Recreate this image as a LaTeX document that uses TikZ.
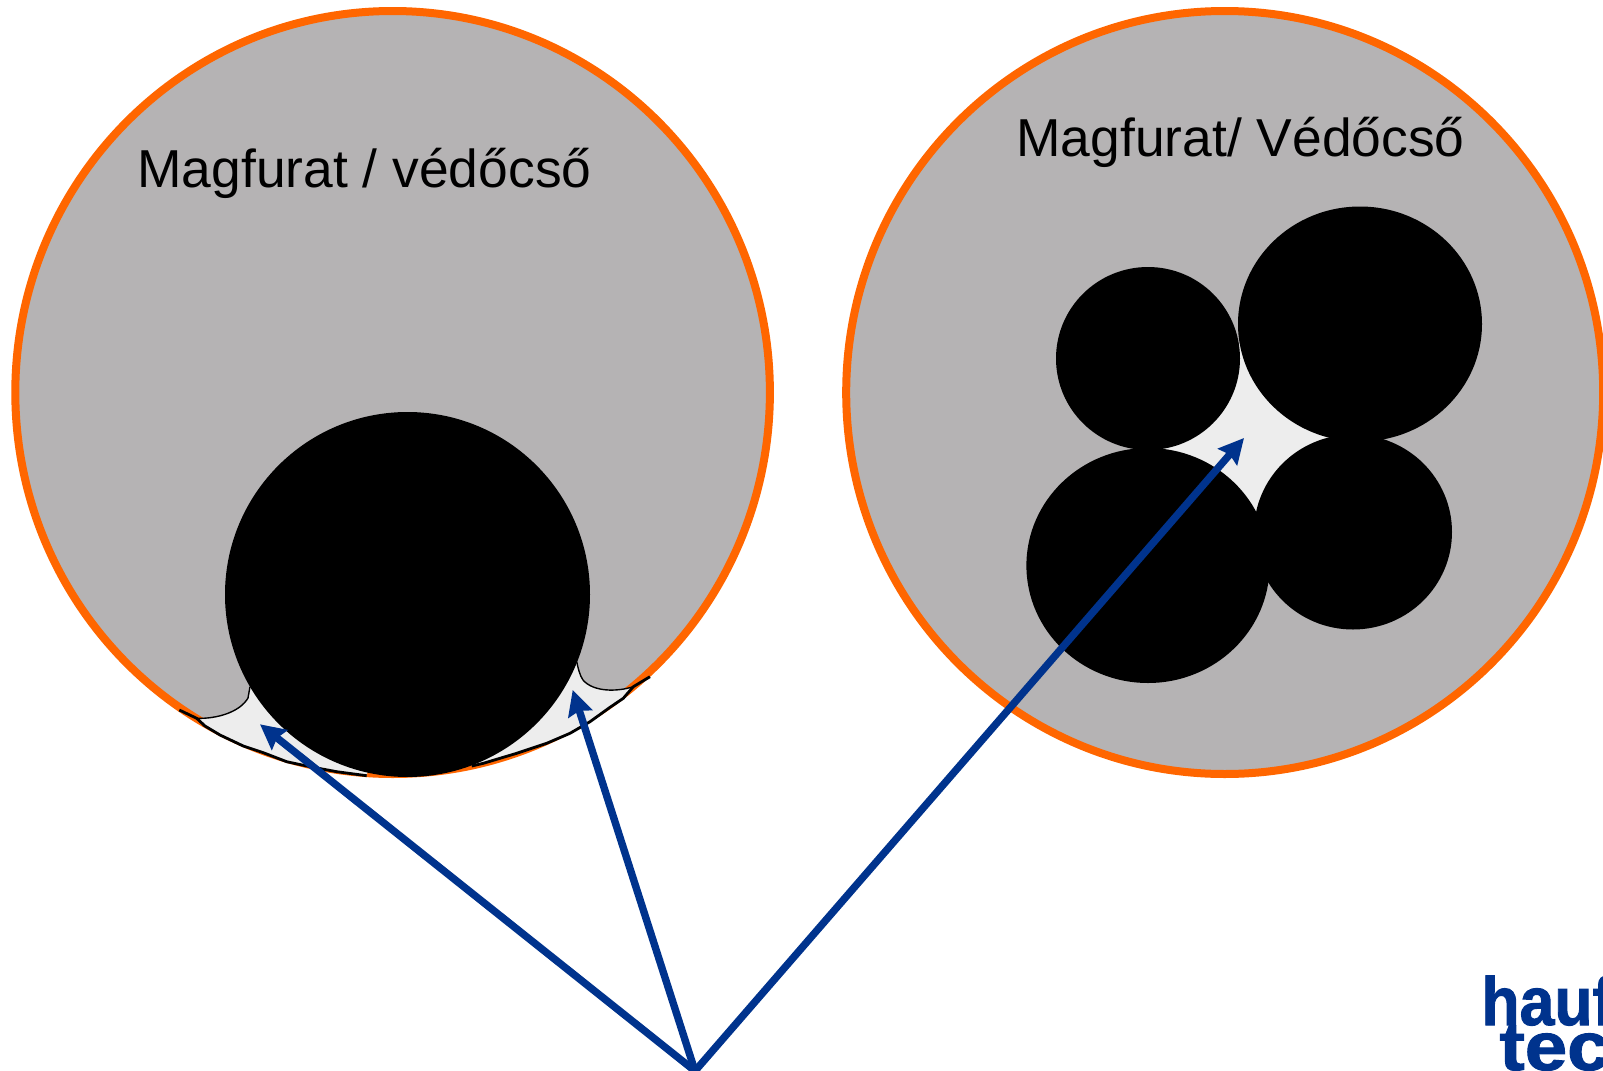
\documentclass[tikz,border=0pt]{standalone}
\usepackage{fontspec}
\setmainfont{Liberation Sans}
\newfontfamily\logofont[FakeBold=1.5]{Liberation Sans Bold}
\usetikzlibrary{arrows.meta}
\definecolor{ringorange}{HTML}{FF6600}
\definecolor{coregray}{HTML}{B5B3B4}
\definecolor{gaplight}{HTML}{EDEDED}
\definecolor{arrowblue}{HTML}{00338D}
\tikzset{
  ring/.style={draw=ringorange,line width=4pt,fill=coregray},
  wire/.style={fill=black,draw=none},
  gap/.style={fill=gaplight,draw=none},
  gapedge/.style={draw=black,line width=0.7pt,line join=round},
  gapedgethick/.style={draw=black,line width=1.4pt,line join=round},
  pointer/.style={draw=arrowblue,line width=3.7pt,-{Stealth[length=12.5pt,width=12.5pt,inset=1.6pt]}},
  label/.style={inner sep=0pt,anchor=base west,font=\fontsize{26.7}{30}\selectfont},
  logo/.style={inner sep=0pt,anchor=base west,text=arrowblue,font=\fontsize{34}{34}\selectfont\logofont},
}
\begin{document}
\begin{tikzpicture}[x=0.5pt,y=-0.5pt]
\useasboundingbox (0,0) rectangle (1603,1071);
\begin{scope}
\clip (0,0) rectangle (1603,1071);
% left tube
\draw[ring] (392.6,392.5) ellipse [x radius=377.3,y radius=381.5];
% left cusps
\fill[gap] (196.7,718.3) .. controls (217,719) and (240,712) .. (248,698) -- (250,686.7) -- (407,595) -- (366.7,775.7) -- (336.7,771.7) -- (310,766.7) -- (286.7,761.7) -- (263.3,752.7) -- (243.3,746) -- (220,735) -- (205,726) -- cycle;
\fill[gap] (633.3,686.7) .. controls (616.7,692) and (593.3,692) .. (583,680) .. controls (580,676) and (578,668) .. (576.7,661.7) -- (407,595) -- (471.7,766) -- (483.3,763.3) -- (516.7,753.3) -- (546.7,743.3) -- (570,733.3) -- (590,721.7) -- (610,707.3) -- (623.3,698.3) -- cycle;
\draw[gapedge] (196.7,718.3) .. controls (217,719) and (240,712) .. (248,698) -- (250,686.7);
\draw[gapedge] (633.3,686.7) .. controls (616.7,692) and (593.3,692) .. (583,680) .. controls (580,676) and (578,668) .. (576.7,661.7);
\draw[gapedgethick] (179.3,710) -- (196.7,718.3) -- (205,726) -- (220,735) -- (243.3,746) -- (263.3,752.7) -- (286.7,761.7) -- (310,766.7) -- (336.7,771.7) -- (366.7,775.7);
\draw[gapedgethick] (650,676.7) -- (633.3,686.7) -- (623.3,698.3) -- (610,707.3) -- (590,721.7) -- (570,733.3) -- (546.7,743.3) -- (516.7,753.3) -- (483.3,763.3) -- (471.7,766);
\fill[wire] (407.5,594.5) circle [radius=182.5];
% right tube
\draw[ring] (1224.7,392.5) ellipse [x radius=378.5,y radius=381.5];
\fill[gap] (1148,358.5) -- (1360,324) -- (1353,532) -- (1148,565.5) -- cycle;
\fill[wire] (1360,324) ellipse [x radius=122,y radius=117.5];
\fill[wire] (1148,358.5) ellipse [x radius=92,y radius=91.5];
\fill[wire] (1148,565.5) ellipse [x radius=121.6,y radius=117.5];
\fill[wire] (1353,532) ellipse [x radius=99,y radius=97.5];
% labels
\node[label] (lefttext) at (137,187) {Magfurat / védőcső};
\node[label] (righttext) at (1016,156) {Magfurat/ Védőcső};
% pointers
\coordinate (hub) at (695,1071);
\coordinate (tipa) at (260,724.3);
\coordinate (tipb) at (572.7,690);
\coordinate (tipc) at (1244,438);
\draw[pointer] (hub) -- (tipa);
\draw[pointer] (hub) -- (tipb);
\draw[pointer] (hub) -- (tipc);
% logo, cut by the page edge
\node[logo,xscale=0.92] (logoa) at (1481,1025) {hauf};
\node[logo,xscale=1.12] (logob) at (1499,1070) {tec};
\end{scope}
\end{tikzpicture}
\end{document}
